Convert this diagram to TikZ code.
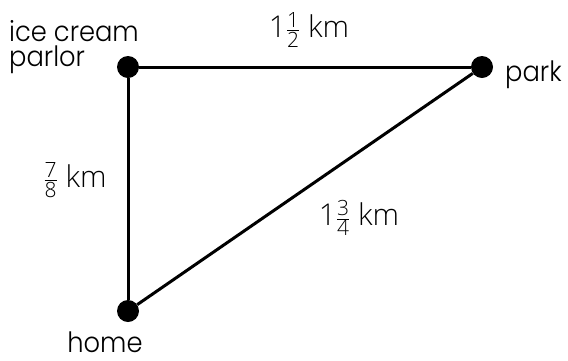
\documentclass[tikz,border=0pt]{standalone}
\usepackage{amsmath}
\usepackage{fontspec}
\setmainfont{Open Sans}[UprightFont=* Light]
\newfontfamily\placefont{Poppins}[UprightFont=* Light,FakeStretch=0.92]
\begin{document}
\begin{tikzpicture}[x=1pt,y=-1pt,
  dotnode/.style={circle,fill=black,minimum size=22pt,inner sep=0pt},
  edge/.style={line width=3pt},
  place/.style={font=\placefont\fontsize{28}{30}\selectfont,inner sep=0pt},
  dist/.style={font=\fontsize{30}{32}\selectfont,inner sep=0pt}]
\useasboundingbox (0,0) rectangle (568,360);
\node[dotnode] (parlor) at (128,67) {};
\node[dotnode] (park) at (482,67) {};
\node[dotnode] (home) at (128,311) {};
\draw[edge] (parlor) -- (park);
\draw[edge] (parlor) -- (home);
\draw[edge] (home) -- (park);
\node[place,anchor=base west] (lparlor1) at (9,41) {ice cream};
\node[place,anchor=base west] (lparlor2) at (9,66) {parlor};
\node[place,anchor=west] (lpark) at (505,75) {park};
\node[place,anchor=base] (lhome) at (105,352) {home};
\node[dist] (dtop) at (309,30) {1$\frac{\text{1}}{\text{2}}$ km};
\node[dist] (dleft) at (75,180) {$\frac{\text{7}}{\text{8}}$ km};
\node[dist] (ddiag) at (359,218) {1$\frac{\text{3}}{\text{4}}$ km};
\end{tikzpicture}
\end{document}
